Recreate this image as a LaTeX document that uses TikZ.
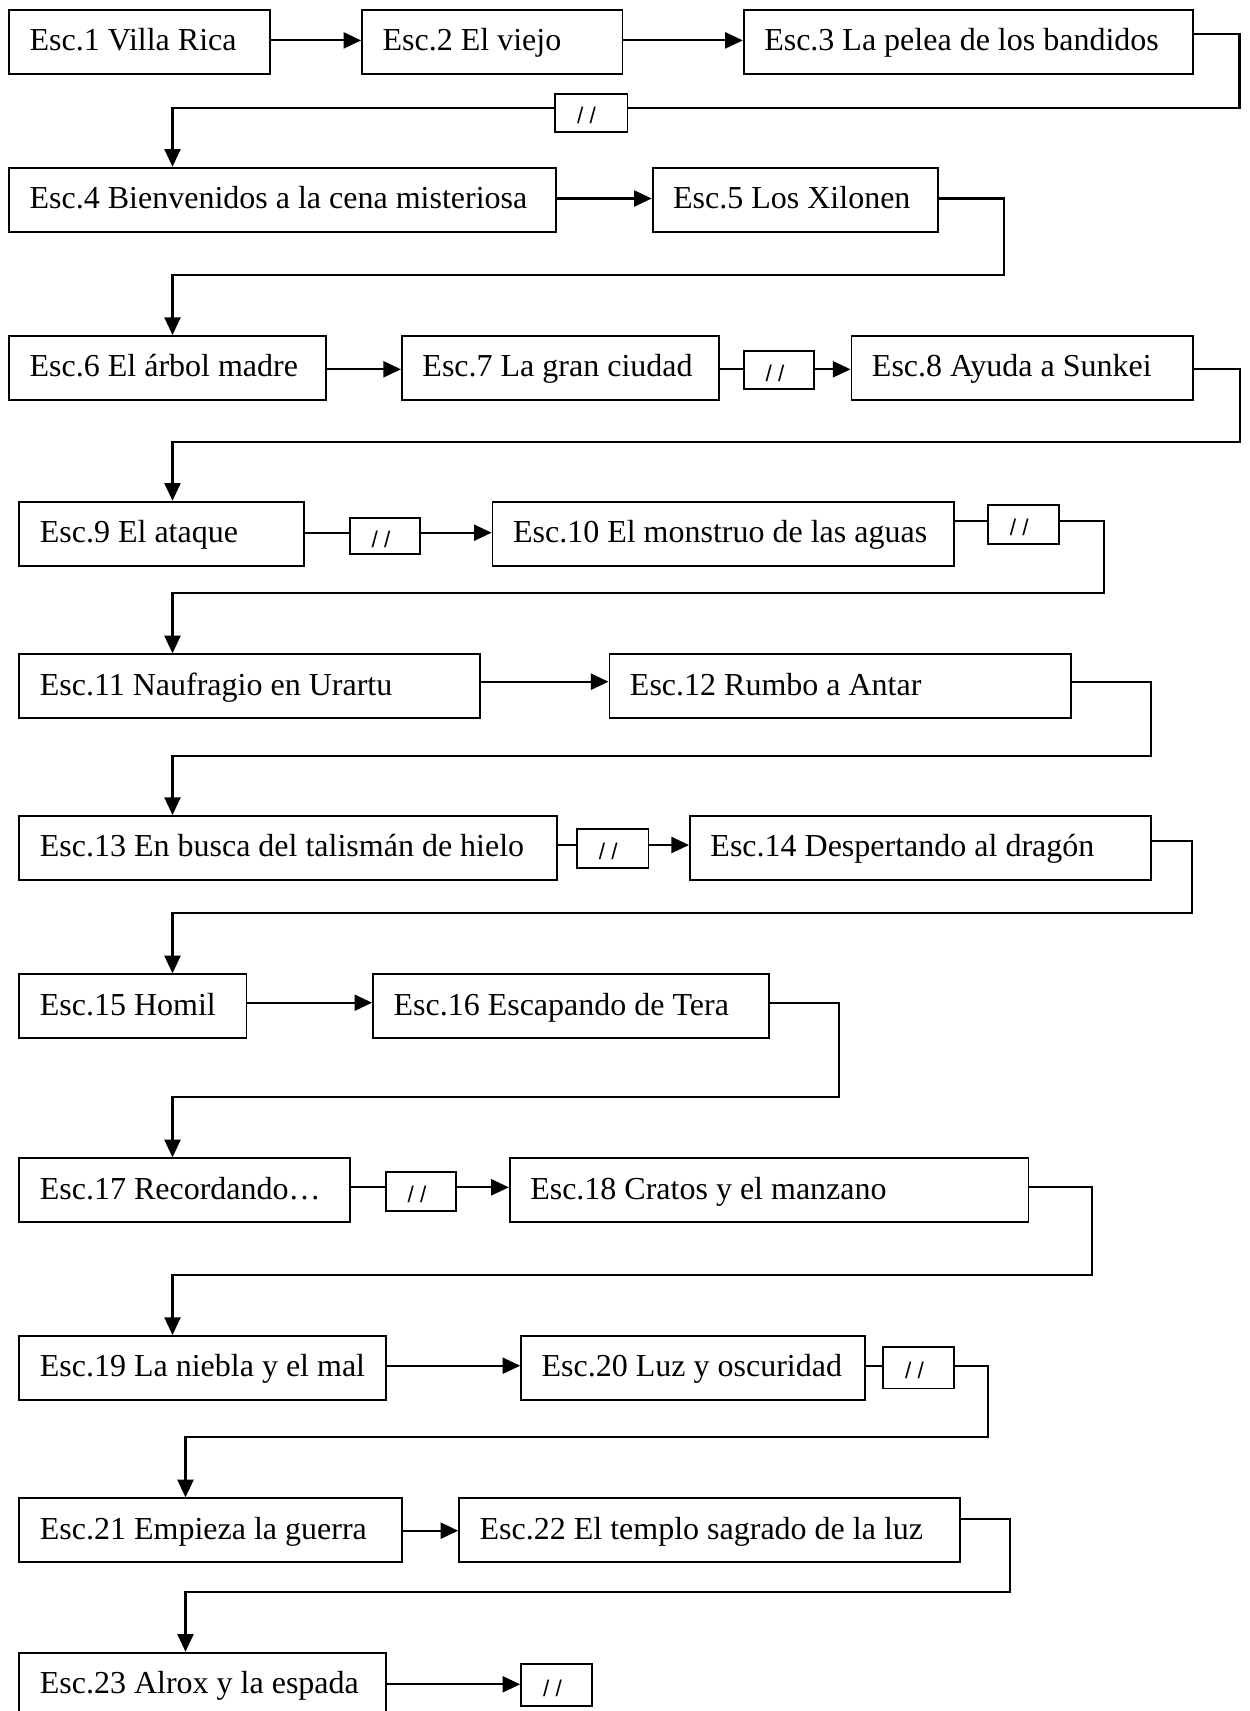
\documentclass[tikz,border=0pt]{standalone}
\usepackage{fontspec}
\setmainfont{Liberation Serif}
\newfontfamily\slashfont{Liberation Sans}
\usetikzlibrary{arrows.meta}

\tikzset{
  scene/.style={draw, line width=0.7pt, rectangle, anchor=north west,
    minimum height=24pt, inner xsep=7.7pt, inner ysep=0pt,
    font=\fontsize{12}{14}\selectfont,
    text height=8.5pt, text depth=1.75pt},
  gap/.style={draw, line width=0.7pt, rectangle, anchor=north west,
    inner xsep=8.2pt, inner ysep=0pt,
    font=\slashfont\fontsize{8.5}{9}\selectfont,
    text height=9.2pt, text depth=0.8pt},
  link/.style={line width=0.8pt},
  arr/.style={line width=0.8pt, -{Triangle[length=6.6pt,width=6pt]}},
}

% scene box: name, left x, top y, right x, text
\newcommand\scene[5]{%
  \pgfmathsetlengthmacro\scenetw{(#4-#2)*0.375pt-15.4pt}%
  \node[scene] (#1) at (#2,#3) {\makebox[\scenetw][l]{#5}};}
% pause box: name, left x, top y, right x, bottom y
\newcommand\pausebox[5]{%
  \pgfmathsetlengthmacro\pausetw{(#4-#2)*0.375pt-16.4pt}%
  \pgfmathsetlengthmacro\pauseht{(#5-#3)*0.375pt}%
  \node[gap,minimum height=\pauseht] (#1) at (#2,#3) {\makebox[\pausetw][l]{/ /}};}

\begin{document}
\begin{tikzpicture}[x=0.375pt,y=-0.375pt]
\useasboundingbox (0,0) rectangle (1249,1711);
\fill[white] (0,0) rectangle (1249,1711);

% scenes
\scene{b1}{8.2}{8.7}{269.4}{Esc.1 Villa Rica}
\scene{b2}{361.2}{8.7}{621.5}{Esc.2 El viejo}
\scene{b3}{742.8}{8.7}{1191.9}{Esc.3 La pelea de los bandidos}
\scene{b4}{8.2}{166.7}{555.1}{Esc.4 Bienvenidos a la cena misteriosa}
\scene{b5}{651.7}{166.7}{937.4}{Esc.5 Los Xilonen}
\scene{b6}{8.2}{335}{325.2}{Esc.6 El árbol madre}
\scene{b7}{401}{335}{718}{Esc.7 La gran ciudad}
\scene{b8}{850.5}{335}{1192}{Esc.8 Ayuda a Sunkei}
\scene{b9}{18.4}{500.7}{303.1}{Esc.9 El ataque}
\scene{b10}{491.6}{500.7}{953.1}{Esc.10 El monstruo de las aguas}
\scene{b11}{18.4}{653.3}{479.4}{Esc.11 Naufragio en Urartu}
\scene{b12}{608.5}{653.3}{1069.9}{Esc.12 Rumbo a Antar}
\scene{b13}{18.4}{815}{555.7}{Esc.13 En busca del talismán de hielo}
\scene{b14}{689}{815}{1149.8}{Esc.14 Despertando al dragón}
\scene{b15}{18.4}{973.3}{245.6}{Esc.15 Homil}
\scene{b16}{372.1}{973.3}{767.7}{Esc.16 Escapando de Tera}
\scene{b17}{18.4}{1157.3}{349.2}{Esc.17 Recordando…}
\scene{b18}{508.8}{1157.3}{1027.6}{Esc.18 Cratos y el manzano}
\scene{b19}{18.4}{1335}{385.1}{Esc.19 La niebla y el mal}
\scene{b20}{520.2}{1335}{864.1}{Esc.20 Luz y oscuridad}
\scene{b21}{18.4}{1497.3}{401.1}{Esc.21 Empieza la guerra}
\scene{b22}{458.2}{1497.3}{959.4}{Esc.22 El templo sagrado de la luz}
\scene{b23}{18.4}{1651.7}{384.7}{Esc.23 Alrox y la espada}

% pauses
\pausebox{g1}{554.3}{92.7}{626.5}{131}
\pausebox{g2}{742.8}{350}{813.2}{388}
\pausebox{g3}{348.8}{517}{419.4}{553}
\pausebox{g4}{987.1}{504}{1058.3}{543}
\pausebox{g5}{576.1}{828}{647.6}{867}
\pausebox{g6}{384.7}{1171}{455.3}{1210}
\pausebox{g7}{882.3}{1346}{953.1}{1387.5}
\pausebox{g8}{520.2}{1662.7}{590.8}{1705}

% row 1
\draw[arr] (b1.east |- 0,40.4) -- (b2.west |- 0,40.4);
\draw[arr] (b2.east |- 0,40.4) -- (b3.west |- 0,40.4);
\draw[link] (b3.east |- 0,34) -| (1239.5,108) -- (g1.east |- 0,108);
\draw[arr] (g1.west |- 0,108) -| (172.5,0 |- b4.north);
% row 2
\draw[arr] (b4.east |- 0,198.5) -- (b5.west |- 0,198.5);
\draw[arr] (b5.east |- 0,198.5) -| (1003.6,275) -| (172.5,0 |- b6.north);
% row 3
\draw[arr] (b6.east |- 0,369.3) -- (b7.west |- 0,369.3);
\draw[link] (b7.east |- 0,369.3) -- (g2.west |- 0,369.3);
\draw[arr] (g2.east |- 0,369.3) -- (b8.west |- 0,369.3);
\draw[arr] (b8.east |- 0,369.3) -| (1239.6,441.7) -| (172.5,0 |- b9.north);
% row 4
\draw[link] (b9.east |- 0,532.7) -- (g3.west |- 0,532.7);
\draw[arr] (g3.east |- 0,532.7) -- (b10.west |- 0,532.7);
\draw[link] (b10.east |- 0,521) -- (g4.west |- 0,521);
\draw[arr] (g4.east |- 0,521) -| (1103.8,593.3) -| (172.5,0 |- b11.north);
% row 5
\draw[arr] (b11.east |- 0,681.7) -- (b12.west |- 0,681.7);
\draw[arr] (b12.east |- 0,681.7) -| (1151.4,755.7) -| (172.5,0 |- b13.north);
% row 6
\draw[link] (b13.east |- 0,845) -- (g5.west |- 0,845);
\draw[arr] (g5.east |- 0,845) -- (b14.west |- 0,845);
\draw[arr] (b14.east |- 0,841) -| (1192,913.3) -| (172.5,0 |- b15.north);
% row 7
\draw[arr] (b15.east |- 0,1002.7) -- (b16.west |- 0,1002.7);
\draw[arr] (b16.east |- 0,1003.3) -| (839.3,1097.3) -| (172.5,0 |- b17.north);
% row 8
\draw[link] (b17.east |- 0,1187.3) -- (g6.west |- 0,1187.3);
\draw[arr] (g6.east |- 0,1187.3) -- (b18.west |- 0,1187.3);
\draw[arr] (b18.east |- 0,1187.3) -| (1091.8,1275) -| (172.5,0 |- b19.north);
% row 9
\draw[arr] (b19.east |- 0,1365.7) -- (b20.west |- 0,1365.7);
\draw[link] (b20.east |- 0,1365.7) -- (g7.west |- 0,1365.7);
\draw[arr] (g7.east |- 0,1365.7) -| (987.9,1437.3) -| (185.5,0 |- b21.north);
% row 10
\draw[arr] (b21.east |- 0,1530.7) -- (b22.west |- 0,1530.7);
\draw[arr] (b22.east |- 0,1519.3) -| (1009.9,1591.7) -| (185.5,0 |- b23.north);
% row 11
\draw[arr] (b23.east |- 0,1684.3) -- (g8.west |- 0,1684.3);
\end{tikzpicture}
\end{document}
